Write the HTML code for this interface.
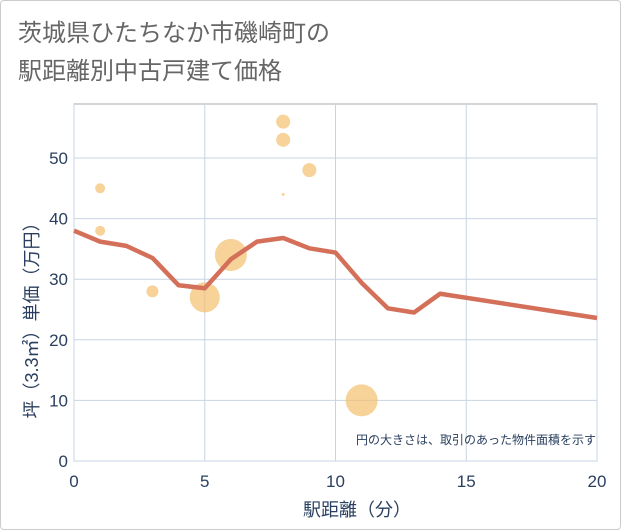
<!DOCTYPE html>
<html><head><meta charset="utf-8"><style>
body{margin:0;background:#fff;}
#wrap{position:relative;width:621px;height:530px;box-sizing:border-box;border:1px solid #ccc;border-radius:4px;background:#fff;font-family:"Liberation Sans","Noto Sans CJK JP",sans-serif;}
</style></head><body>
<div id="wrap">
<svg id="chart" width="621" height="530" style="position:absolute;left:0;top:0">
<text x="17" y="40" font-size="24" fill="#666" font-family="Liberation Sans,Noto Sans CJK JP,sans-serif">茨城県ひたちなか市磯崎町の</text>
<text x="17" y="78" font-size="24" fill="#666" font-family="Liberation Sans,Noto Sans CJK JP,sans-serif">駅距離別中古戸建て価格</text>
<g id="grid"></g>
<g id="marks"></g>
<text x="595" y="443" font-size="12" fill="#2a3f5f" text-anchor="end" font-family="Liberation Sans,Noto Sans CJK JP,sans-serif">円の大きさは、取引のあった物件面積を示す</text>
<text x="356" y="515" font-size="18" fill="#2a3f5f" text-anchor="middle" font-family="Liberation Sans,Noto Sans CJK JP,sans-serif">駅距離（分）</text>
<text transform="translate(37,315) rotate(-90)" font-size="18" fill="#2a3f5f" text-anchor="middle" font-family="Liberation Sans,Noto Sans CJK JP,sans-serif">坪（3.3㎡）単価（万円）</text>
</svg>
</div>
<script>
const xTicks=[0,5,10,15,20];
const yTicks=[0,10,20,30,40,50];
const lineX=[0,1,2,3,4,5,6,7,8,9,10,11,12,13,14,20];
const lineY=[38,36.2,35.5,33.5,29,28.5,33.3,36.2,36.8,35.1,34.4,29.4,25.2,24.5,27.6,23.6];
const bubbleX=[1,1,3,5,6,8,8,8,9,11];
const bubbleY=[45,38,28,27,34,56,53,44,48,10];
const bubbleR=[5,5,6,15,16,7,7,1.5,7,16];
const L=73,R=596,T=103,B=460;
function sx(v){return L+(v-0)/(20-0)*(R-L);}
function sy(v){return B-(v-0)/(50)*(B-157);}
const NS='http://www.w3.org/2000/svg';
function mk(t,a,p){const e=document.createElementNS(NS,t);for(const k in a)e.setAttribute(k,a[k]);p.appendChild(e);return e;}
const grid=document.getElementById('grid'),marks=document.getElementById('marks');
const frame=mk('rect',{x:L,y:T,width:R-L,height:B-T,fill:'#fff',stroke:'#aaa','stroke-width':1},grid);


xTicks.forEach(v=>{
 const g=mk('line',{x1:sx(v),x2:sx(v),y1:T,y2:B,stroke:'#c8d4e3','stroke-width':1},grid);
 
 
 const t=mk('text',{x:sx(v),y:B+26,'font-size':17,fill:'#2a3f5f','text-anchor':'middle'},grid);
 t.textContent=v;
 
 
});
yTicks.forEach(v=>{
 const g=mk('line',{x1:L,x2:R,y1:sy(v),y2:sy(v),stroke:'#c8d4e3','stroke-width':1},grid);
 
 
 const t=mk('text',{x:L-6,y:sy(v)+6,'font-size':17,fill:'#2a3f5f','text-anchor':'end'},grid);
 t.textContent=v;
 
 
});
bubbleX.forEach((x,i)=>{
 const c=mk('circle',{cx:sx(x),cy:sy(bubbleY[i]),r:bubbleR[i],fill:'#f3bf6e','fill-opacity':0.7},marks);
 
 
});
const pts=lineX.map((x,i)=>sx(x)+','+sy(lineY[i])).join(' ');
const pl=mk('polyline',{points:pts,fill:'none',stroke:'#d4705a','stroke-width':4.5,'stroke-linejoin':'round'},marks);


</script>
</body></html>
